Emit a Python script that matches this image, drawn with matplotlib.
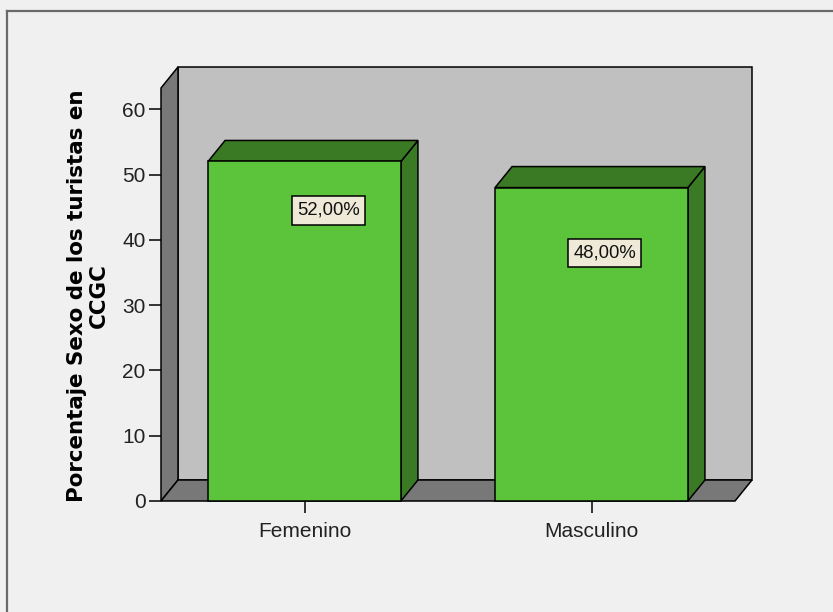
import matplotlib
matplotlib.use("Agg")
import matplotlib.pyplot as plt
import numpy as np
from matplotlib.patches import Polygon
from matplotlib.lines import Line2D
from matplotlib.transforms import IdentityTransform

# Data
categories = ["Femenino", "Masculino"]
percentages = [52.0, 48.0]
value_labels = ["52,00%", "48,00%"]
y_ticks = [0, 10, 20, 30, 40, 50, 60]
y_label = "Porcentaje Sexo de los turistas en\nCCGC"

plt.rcParams["font.family"] = ["Liberation Sans", "DejaVu Sans"]

W, H, DPI = 833, 612, 100
BG = "#F0F0F0"
WALL = "#C0C0C0"
SIDE = "#787878"
BAR = "#5CC43A"
BAR_DARK = "#3B7A24"
EDGE = "black"
LW = 1.1

fig = plt.figure(figsize=(W / DPI, H / DPI), dpi=DPI, facecolor=BG)
ax = fig.add_axes([161 / W, 1 - 501 / H, (735 - 161) / W, (501 - 88) / H])
ymax = 63.25
ax.set_xlim(0, 2)
ax.set_ylim(0, ymax)
ax.patch.set_visible(False)
for s in ax.spines.values():
    s.set_visible(False)

# depth offset of the pseudo-3D frame, in pixels
DX, DY = 17, 21


def face(pts, color, z):
    xy = ax.transData.transform([(x, y) for x, y, _ in pts])
    xy = xy + np.array([[DX * d, DY * d] for _, _, d in pts])
    ax.add_patch(Polygon(xy, closed=True, transform=IdentityTransform(),
                         facecolor=color, edgecolor=EDGE, linewidth=LW,
                         joinstyle="miter", clip_on=False, zorder=z))


# frame: back wall, left wall, floor
face([(0, 0, 1), (2, 0, 1), (2, ymax, 1), (0, ymax, 1)], WALL, 1)
face([(0, 0, 0), (0, 0, 1), (0, ymax, 1), (0, ymax, 0)], SIDE, 2)
face([(0, 0, 0), (2, 0, 0), (2, 0, 1), (0, 0, 1)], SIDE, 2)

# bars
positions = np.arange(len(categories)) + 0.5
bar_w = 0.672
for c, v in zip(positions, percentages):
    x0, x1 = c - bar_w / 2, c + bar_w / 2
    face([(x1, 0, 0), (x1, 0, 1), (x1, v, 1), (x1, v, 0)], BAR_DARK, 3)
    face([(x0, v, 0), (x1, v, 0), (x1, v, 1), (x0, v, 1)], BAR_DARK, 3)
    face([(x0, 0, 0), (x1, 0, 0), (x1, v, 0), (x0, v, 0)], BAR, 4)

# value labels
label_offsets = [(24, -49), (13, -65)]
for c, v, txt, (ox, oy) in zip(positions, percentages, value_labels, label_offsets):
    ax.annotate(txt, xy=(c, v), xytext=(ox, oy), textcoords="offset pixels",
                ha="center", va="center", fontsize=13.3, color="#111111",
                bbox=dict(boxstyle="square,pad=0.3", facecolor="#EFEAD8",
                          edgecolor=EDGE, linewidth=LW),
                zorder=6)

# axes ticks
ax.set_yticks(y_ticks)
ax.set_yticklabels([str(t) for t in y_ticks])
ax.set_xticks(positions)
ax.set_xticklabels(categories)
ax.tick_params(axis="y", length=8.6, width=1.1, pad=2.5, labelsize=15,
               colors="black", labelcolor="#222222")
ax.tick_params(axis="x", length=8.6, width=1.1, pad=6.5, labelsize=15,
               colors="black", labelcolor="#222222")

fig.text(87.5 / W, 1 - 296 / H, y_label, rotation=90, ha="center", va="center",
         multialignment="center", fontsize=15.4, fontweight="bold",
         family=["DejaVu Sans"], linespacing=1.12, color="black")

# outer frame
ytop = 1 - 10.5 / H
xleft = 7 / W
fig.add_artist(Line2D([xleft, 1], [ytop, ytop], transform=fig.transFigure,
                      color="#6A6A6A", linewidth=1.6))
fig.add_artist(Line2D([xleft, xleft], [0, ytop], transform=fig.transFigure,
                      color="#6A6A6A", linewidth=1.6))

fig.savefig("out.png", dpi=DPI, facecolor=BG)
